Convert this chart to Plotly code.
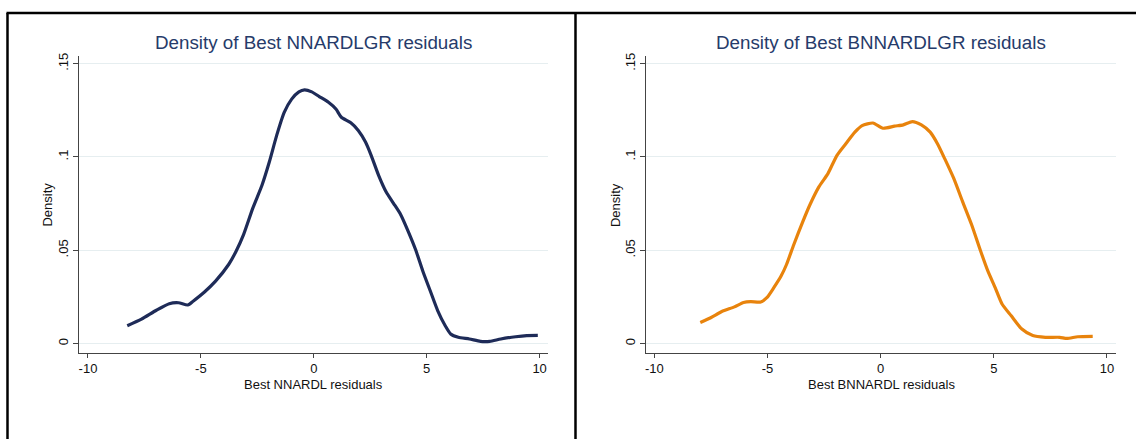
import plotly.graph_objects as go

# ---- data ----
left_x = [-8.26, -7.63, -6.97, -6.40, -5.99, -5.58, -5.33, -4.84, -4.35, -3.77, -3.44, -3.11,
          -2.70, -2.29, -1.97, -1.64, -1.31, -0.98, -0.66, -0.41, -0.09, 0.24, 0.65, 0.98,
          1.22, 1.64, 1.97, 2.29, 2.54, 2.87, 3.20, 3.53, 3.85, 4.18, 4.51, 4.83, 5.16,
          5.49, 5.82, 6.06, 6.40, 6.89, 7.38, 7.79, 8.28, 8.94, 9.43, 9.92]
left_y = [0.0096, 0.0131, 0.0179, 0.0214, 0.0219, 0.0207, 0.0229, 0.0277, 0.0335, 0.0424,
          0.0495, 0.0584, 0.0726, 0.0850, 0.0973, 0.1117, 0.1239, 0.1310, 0.1349, 0.1360,
          0.1349, 0.1324, 0.1293, 0.1257, 0.1213, 0.1183, 0.1142, 0.1080, 0.1009, 0.0902,
          0.0814, 0.0752, 0.0691, 0.0602, 0.0503, 0.0388, 0.0282, 0.0176, 0.0096, 0.0052,
          0.0034, 0.0025, 0.0012, 0.0012, 0.0025, 0.0037, 0.0043, 0.0044]

right_x = [-7.97, -7.49, -7.02, -6.46, -6.06, -5.74, -5.30, -5.03, -4.72, -4.40, -4.16, -3.84,
           -3.44, -3.13, -2.73, -2.33, -1.93, -1.54, -1.14, -0.82, -0.34, 0.10, 0.61, 1.00,
           1.40, 1.80, 2.19, 2.51, 2.83, 3.23, 3.62, 4.02, 4.42, 4.74, 5.06, 5.37, 5.77,
           6.24, 6.72, 7.28, 7.91, 8.23, 8.71, 9.37]
right_y = [0.0113, 0.0140, 0.0172, 0.0197, 0.0220, 0.0225, 0.0223, 0.0246, 0.0300, 0.0362,
           0.0424, 0.0530, 0.0654, 0.0743, 0.0840, 0.0911, 0.1009, 0.1071, 0.1133, 0.1168,
           0.1182, 0.1154, 0.1165, 0.1172, 0.1190, 0.1172, 0.1133, 0.1071, 0.0991, 0.0885,
           0.0761, 0.0637, 0.0495, 0.0388, 0.0300, 0.0211, 0.0149, 0.0078, 0.0043, 0.0034,
           0.0034, 0.0028, 0.0037, 0.0039]

x_ticks = [-10, -5, 0, 5, 10]
x_tick_text = ["-10", "-5", "0", "5", "10"]
y_ticks = [0, 0.05, 0.1, 0.15]
y_tick_text = ["0", ".05", ".1", ".15"]

titles = ["Density of Best NNARDLGR residuals", "Density of Best BNNARDLGR residuals"]
x_titles = ["Best NNARDL residuals", "Best BNNARDL residuals"]
y_title = "Density"

W, H = 1136, 439
FONT = "Liberation Sans, Arial, sans-serif"
NAVY = "#1e2b58"
ORANGE = "#e8830c"
TITLE_C = "#263b6a"
GRID = "#e6eef0"
SMALL = 13

fig = go.Figure()
fig.add_trace(go.Scatter(x=left_x, y=left_y, mode="lines", xaxis="x", yaxis="y",
                         line=dict(color=NAVY, width=3.2, shape="spline", smoothing=0.6),
                         showlegend=False, hoverinfo="skip"))
fig.add_trace(go.Scatter(x=right_x, y=right_y, mode="lines", xaxis="x2", yaxis="y2",
                         line=dict(color=ORANGE, width=3.2, shape="spline", smoothing=0.6),
                         showlegend=False, hoverinfo="skip"))

ydom = [1 - 352 / H, 1 - 53 / H]
dom_left = [78 / W, 547 / W]
dom_right = [646 / W, 1116 / W]

def xaxis(dom, anchor, rng):
    return dict(domain=dom, anchor=anchor, range=rng, tickvals=x_ticks, ticktext=x_tick_text,
                showgrid=False, zeroline=False, showline=True, linecolor="#444444", linewidth=1,
                ticks="outside", ticklen=4, tickcolor="#444444",
                tickfont=dict(family=FONT, size=SMALL, color="#111111"))

def yaxis(anchor):
    return dict(domain=ydom, anchor=anchor, range=[-0.0048, 0.1543], tickvals=y_ticks,
                ticktext=y_tick_text, tickangle=-90, showgrid=True, gridcolor=GRID, gridwidth=1,
                zeroline=False, showline=True, linecolor="#444444", linewidth=1,
                ticks="outside", ticklen=5, tickcolor="#444444",
                tickfont=dict(family=FONT, size=SMALL, color="#111111"))

fig.update_layout(
    width=W, height=H, margin=dict(l=0, r=0, t=0, b=0),
    paper_bgcolor="white", plot_bgcolor="white",
    xaxis=xaxis(dom_left, "y", [-10.4, 10.35]),
    yaxis=yaxis("x"),
    xaxis2=xaxis(dom_right, "y2", [-10.35, 10.4]),
    yaxis2=yaxis("x2"),
)

ann = []
centers = [(dom_left[0] + dom_left[1]) / 2, (dom_right[0] + dom_right[1]) / 2]
ylab_x = [47 / W, 615 / W]
for i in range(2):
    ann.append(dict(text=titles[i], x=centers[i], y=1 - 40 / H, xref="paper", yref="paper",
                    showarrow=False, xanchor="center", yanchor="middle",
                    font=dict(family=FONT, size=18.8, color=TITLE_C)))
    ann.append(dict(text=x_titles[i], x=centers[i], y=1 - 384 / H, xref="paper", yref="paper",
                    showarrow=False, xanchor="center", yanchor="middle",
                    font=dict(family=FONT, size=SMALL, color="#111111")))
    ann.append(dict(text=y_title, x=ylab_x[i], y=1 - 203 / H, xref="paper", yref="paper",
                    showarrow=False, xanchor="center", yanchor="middle", textangle=-90,
                    font=dict(family=FONT, size=SMALL, color="#111111")))
fig.update_layout(annotations=ann)

# panel borders
bl = dict(color="black", width=2.5)
fig.add_shape(type="line", xref="paper", yref="paper", x0=5.5 / W, x1=1, y0=1 - 10 / H, y1=1 - 10 / H, line=bl)
fig.add_shape(type="line", xref="paper", yref="paper", x0=6.5 / W, x1=6.5 / W, y0=0, y1=1 - 10 / H, line=bl)
fig.add_shape(type="line", xref="paper", yref="paper", x0=575 / W, x1=575 / W, y0=0, y1=1 - 10 / H, line=bl)

fig.write_html("out.html", config={"displayModeBar": False},
               post_script="document.body.style.margin='0';document.body.style.overflow='hidden';")
